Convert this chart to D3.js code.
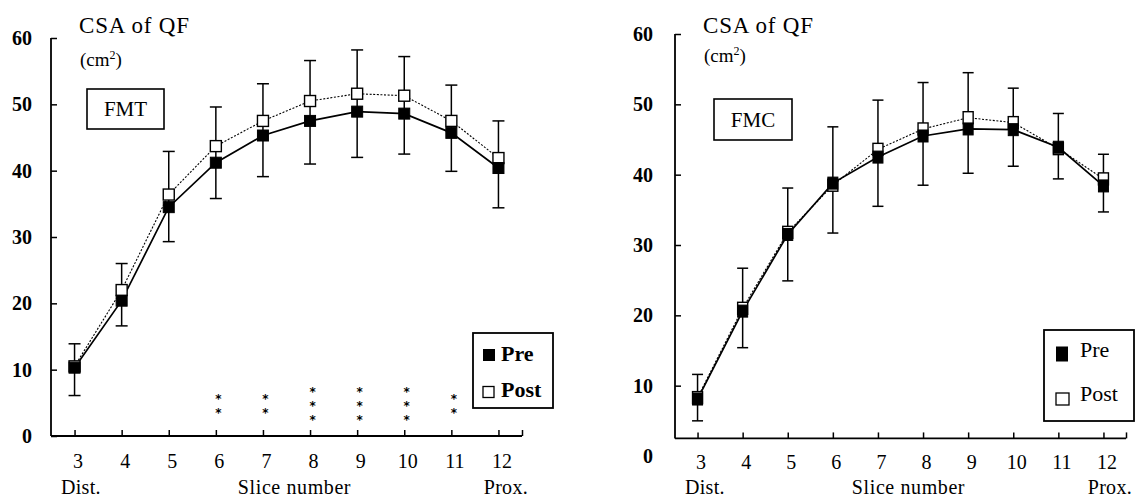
<!DOCTYPE html>
<html>
<head>
<meta charset="utf-8">
<script src="https://cdn.jsdelivr.net/npm/d3@7"></script>
<style>
  body { margin: 0; background: #fff; }
  svg text { font-family: "Liberation Serif", "Times New Roman", serif; fill: #000; }
  svg text.star { font-family: "DejaVu Sans", sans-serif; }
</style>
</head>
<body>
<svg id="chart" width="1138" height="500"></svg>
<script>
// slice positions along the thigh (3 = distal, 12 = proximal)
const slices = [3, 4, 5, 6, 7, 8, 9, 10, 11, 12];
const yTicks = [0, 10, 20, 30, 40, 50, 60];

// FMT group, CSA of QF (cm2), mean and SD
const fmtPre    = [10.3, 20.4, 34.5, 41.2, 45.3, 47.5, 48.9, 48.6, 45.7, 40.4];
const fmtPreSD  = [4.2, 3.8, 5.2, 5.4, 6.2, 6.5, 6.9, 6.1, 5.8, 6.0];
const fmtPost   = [10.5, 22.0, 36.4, 43.7, 47.5, 50.5, 51.6, 51.3, 47.5, 41.9];
const fmtPostSD = [3.4, 4.0, 6.5, 5.9, 5.6, 6.1, 6.6, 5.9, 5.4, 5.6];

// FMC group
const fmcPre    = [8.1, 20.6, 31.5, 38.8, 42.5, 45.5, 46.5, 46.4, 43.9, 38.4];
const fmcPreSD  = [3.1, 5.2, 6.6, 7.1, 7.0, 7.0, 6.3, 5.2, 4.5, 3.7];
const fmcPost   = [8.3, 21.0, 31.8, 38.5, 43.6, 46.5, 48.1, 47.4, 43.7, 39.4];
const fmcPostSD = [3.3, 5.7, 6.3, 8.3, 7.0, 6.6, 6.4, 4.9, 5.0, 3.5];

// significance marks (FMT only)
const sigSlices = [6, 7, 8, 9, 10, 11];
const sigStars  = [2, 2, 3, 3, 3, 2];

const svg = d3.select("#chart");

function drawPanel(o) {
    const g = svg.append("g");
    const x = d3.scaleLinear().domain([2.5, 12.5]).range([o.left, o.right]);
    const y = d3.scaleLinear().domain([0, 60]).range([o.zeroY, o.topY]);
    const axisY = y(o.floor);

    // y axis (ticks inward)
    const ya = g.append("g")
        .attr("transform", "translate(" + o.left + ",0)")
        .call(d3.axisLeft(y).tickValues(yTicks).tickSize(-6).tickPadding(o.yPad).tickSizeOuter(0));
    ya.attr("font-family", null);
    ya.select(".domain").remove();
    ya.selectAll("line").attr("stroke-width", 1.5);
    ya.selectAll(".tick").filter(d => d < o.floor).select("line").remove();
    ya.selectAll("text").attr("font-size", 20).attr("font-weight", "bold");

    // x axis (ticks inward, extra end tick)
    const xa = g.append("g")
        .attr("transform", "translate(0," + axisY + ")")
        .call(d3.axisBottom(x).tickValues(slices.concat([12.5]))
            .tickFormat(d => d === 12.5 ? "" : d)
            .tickSize(-6).tickPadding(o.xPad).tickSizeOuter(0));
    xa.attr("font-family", null);
    xa.select(".domain").remove();
    xa.selectAll("line").attr("stroke-width", 1.5);
    xa.selectAll("text").attr("font-size", 20).attr("dx", 3);

    g.append("line").attr("x1", o.left).attr("x2", o.left)
        .attr("y1", y(60)).attr("y2", axisY)
        .attr("stroke", "#000").attr("stroke-width", 1.8);
    g.append("line").attr("x1", o.left).attr("x2", o.right)
        .attr("y1", axisY).attr("y2", axisY)
        .attr("stroke", "#000").attr("stroke-width", 1.8);

    // error bars: down from pre, up from post
    const cap = o.cap / 2;
    slices.forEach((s, i) => {
        const top = y(o.post[i] + o.postSD[i]);
        const bot = y(o.pre[i] - o.preSD[i]);
        const cx = x(s);
        g.append("line").attr("x1", cx).attr("x2", cx).attr("y1", top).attr("y2", bot)
            .attr("stroke", "#000").attr("stroke-width", 1.5);
        [top, bot].forEach(v => {
            g.append("line").attr("x1", cx - cap).attr("x2", cx + cap).attr("y1", v).attr("y2", v)
                .attr("stroke", "#000").attr("stroke-width", 1.5);
        });
    });

    const line = vals => d3.line().x((d, i) => x(slices[i])).y(d => y(d))(vals);

    g.append("path").attr("d", line(o.post)).attr("fill", "none")
        .attr("stroke", "#000").attr("stroke-width", 1.1).attr("stroke-dasharray", "2,1.6");
    g.append("path").attr("d", line(o.pre)).attr("fill", "none")
        .attr("stroke", "#000").attr("stroke-width", 1.7);

    const w = o.mw, h = o.mh;
    g.selectAll(".post").data(o.post).enter().append("rect")
        .attr("x", (d, i) => x(slices[i]) - w / 2).attr("y", d => y(d) - h / 2)
        .attr("width", w).attr("height", h)
        .attr("fill", "#fff").attr("stroke", "#000").attr("stroke-width", 1.4);
    g.selectAll(".pre").data(o.pre).enter().append("rect")
        .attr("x", (d, i) => x(slices[i]) - w / 2).attr("y", d => y(d) - h / 2)
        .attr("width", w).attr("height", h)
        .attr("fill", "#000").attr("stroke", "#000").attr("stroke-width", 1);

    // titles
    g.append("text").attr("x", o.titleX).attr("y", 33)
        .attr("font-size", 23).attr("letter-spacing", 0.8).text("CSA of QF");
    const unit = g.append("text").attr("x", o.titleX + 1).attr("y", o.unitY).attr("font-size", 19);
    unit.append("tspan").text("(cm");
    unit.append("tspan").attr("font-size", 12).attr("dy", -7).text("2");
    unit.append("tspan").attr("dy", 7).text(")");

    // group box
    g.append("rect").attr("x", o.box[0]).attr("y", o.box[1])
        .attr("width", o.box[2]).attr("height", o.box[3])
        .attr("fill", "none").attr("stroke", "#000").attr("stroke-width", 1.6);
    g.append("text").attr("x", o.box[0] + o.box[2] / 2).attr("y", o.box[1] + o.box[3] / 2 + 7)
        .attr("text-anchor", "middle").attr("font-size", 21).text(o.group);

    // axis captions
    g.append("text").attr("x", o.left + 10).attr("y", 494).attr("font-size", 20)
        .attr("letter-spacing", 0.3).text("Dist.");
    g.append("text").attr("x", (x(7) + x(8)) / 2 + 8).attr("y", 494).attr("letter-spacing", 0.6)
        .attr("text-anchor", "middle").attr("font-size", 20).text("Slice number");
    g.append("text").attr("x", o.right + 6).attr("y", 494).attr("letter-spacing", 0.3)
        .attr("text-anchor", "end").attr("font-size", 20).text("Prox.");

    // legend
    const L = o.legend;
    g.append("rect").attr("x", L.x).attr("y", L.y).attr("width", L.w).attr("height", L.h)
        .attr("fill", "#fff").attr("stroke", "#000").attr("stroke-width", 1.8);
    g.append("rect").attr("x", L.mx).attr("y", L.preY - L.preH / 2)
        .attr("width", L.preW).attr("height", L.preH).attr("fill", "#000");
    g.append("rect").attr("x", L.mx).attr("y", L.postY - L.postH / 2)
        .attr("width", L.postW).attr("height", L.postH)
        .attr("fill", "#fff").attr("stroke", "#000").attr("stroke-width", 1.3);
    g.append("text").attr("x", L.tx).attr("y", L.preTY).attr("font-size", 22)
        .attr("font-weight", L.bold ? "bold" : "normal").text("Pre");
    g.append("text").attr("x", L.tx).attr("y", L.postTY).attr("font-size", 22)
        .attr("font-weight", L.bold ? "bold" : "normal").text("Post");

    return { g: g, x: x, y: y };
}

const left = drawPanel({
    left: 51, right: 522, zeroY: 436, topY: 38, floor: 0,
    yPad: 19, xPad: 18, cap: 12, mw: 11, mh: 11,
    pre: fmtPre, preSD: fmtPreSD, post: fmtPost, postSD: fmtPostSD,
    titleX: 79, unitY: 66, box: [87, 89, 77, 40], group: "FMT",
    legend: { x: 473, y: 333, w: 80, h: 75, mx: 483, preY: 355, preW: 12, preH: 12,
              postY: 392, postW: 11, postH: 11, tx: 501, preTY: 361, postTY: 397, bold: true }
});

drawPanel({
    left: 675, right: 1126, zeroY: 456, topY: 34, floor: 2.5,
    yPad: 22, xPad: 16, cap: 11, mw: 10, mh: 12,
    pre: fmcPre, preSD: fmcPreSD, post: fmcPost, postSD: fmcPostSD,
    titleX: 703, unitY: 62, box: [714, 99, 78, 41], group: "FMC",
    legend: { x: 1044, y: 330, w: 90, h: 91, mx: 1056, preY: 354, preW: 12, preH: 15,
              postY: 399, postW: 13, postH: 12, tx: 1080, preTY: 357, postTY: 401, bold: false }
});

// significance stars under FMT curve, one text per star
sigSlices.forEach((s, i) => {
    const n = sigStars[i];
    for (let k = 0; k < n; k++) {
        left.g.append("text").attr("class", "star").attr("text-anchor", "middle")
            .attr("font-size", 12).attr("font-weight", "bold")
            .attr("x", left.x(s) + 2.5)
            .attr("y", 403 + (k - (n - 1) / 2) * 14 + 6.9)
            .text("*");
    }
});
</script>
</body>
</html>
